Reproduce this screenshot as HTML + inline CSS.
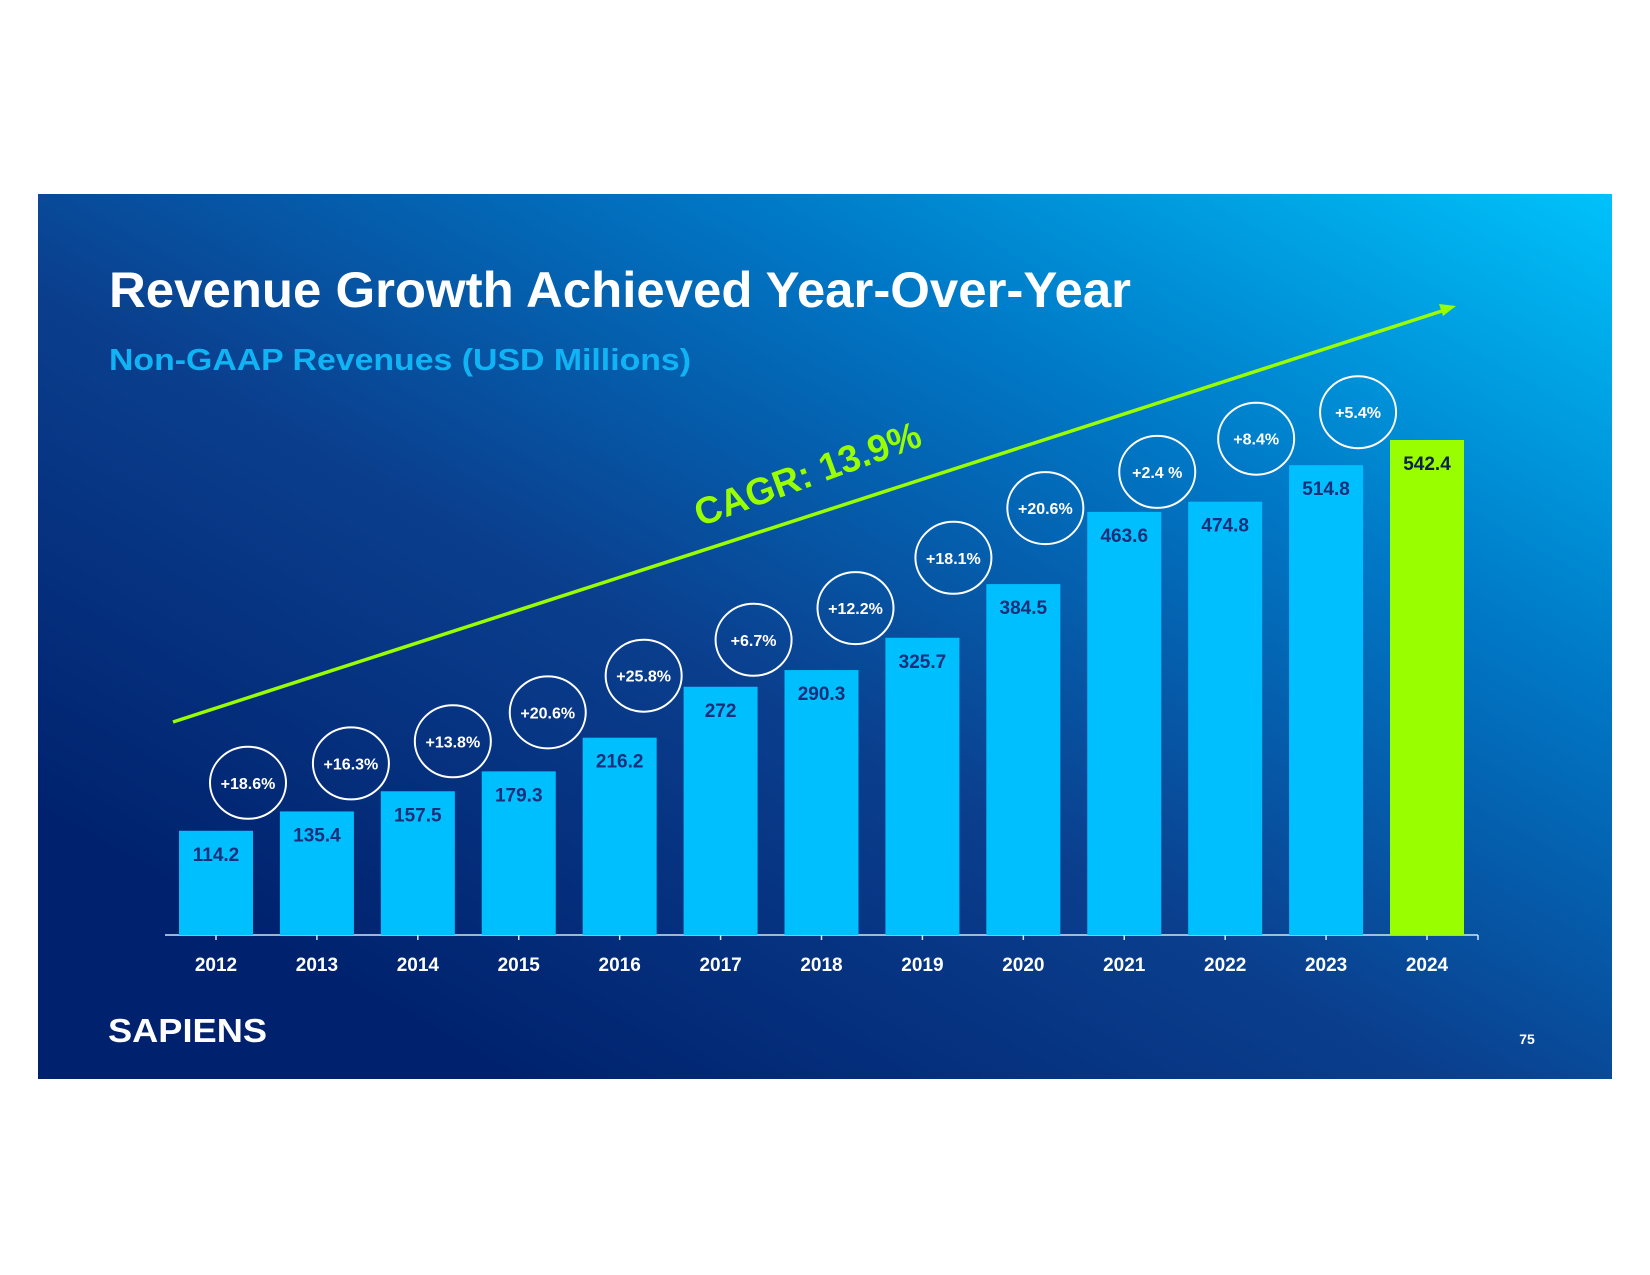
<!DOCTYPE html>
<html><head><meta charset="utf-8"><style>
html,body{margin:0;padding:0;background:#fff;width:1650px;height:1275px;overflow:hidden}
svg{display:block}
text{font-family:"Liberation Sans",sans-serif;font-weight:bold}
</style></head><body>
<svg id="chart" width="1650" height="1275" viewBox="0 0 1650 1275">
<defs>
<linearGradient id="bg" x1="0" y1="1" x2="1" y2="0">
<stop offset="0.15" stop-color="#00226e"/>
<stop offset="0.45" stop-color="#0a3f8e"/>
<stop offset="0.72" stop-color="#0078c6"/>
<stop offset="1" stop-color="#00c2fa"/>
</linearGradient>
</defs>
<rect x="38" y="194" width="1574" height="885" fill="url(#bg)"/>
<text x="109" y="307" font-size="50" fill="#fff" textLength="1022" lengthAdjust="spacingAndGlyphs">Revenue Growth Achieved Year-Over-Year</text>
<text x="109" y="370" font-size="31" fill="#10b4f4" textLength="582" lengthAdjust="spacingAndGlyphs">Non-GAAP Revenues (USD Millions)</text>
<line x1="173" y1="722" x2="1445" y2="310" stroke="#99ff00" stroke-width="3.5"/>
<polygon points="1456,306 1439,304 1443,316" fill="#99ff00"/>
<text x="0" y="0" font-size="38" fill="#99ff00" text-anchor="middle" textLength="238" lengthAdjust="spacingAndGlyphs" transform="translate(812,486) rotate(-20)">CAGR: 13.9%</text>
<g id="plot"></g>
<text x="108" y="1042" font-size="33" fill="#fff" textLength="159" lengthAdjust="spacingAndGlyphs">SAPIENS</text>
<text x="1527" y="1044" font-size="14" fill="#fff" text-anchor="middle">75</text>
</svg>
<script>
const years = ["2012","2013","2014","2015","2016","2017","2018","2019","2020","2021","2022","2023","2024"];
const revenues = [114.2,135.4,157.5,179.3,216.2,272,290.3,325.7,384.5,463.6,474.8,514.8,542.4];
const valueLabels = ["114.2","135.4","157.5","179.3","216.2","272","290.3","325.7","384.5","463.6","474.8","514.8","542.4"];
const growthLabels = ["+18.6%","+16.3%","+13.8%","+20.6%","+25.8%","+6.7%","+12.2%","+18.1%","+20.6%","+2.4 %","+8.4%","+5.4%"];

const NS="http://www.w3.org/2000/svg";
const g=document.getElementById('plot');
const baseY=935, pxPerUnit=(935-440)/542.4;
const x0=216, step=(1427-216)/12, barW=74;
// annotation layout offsets (pixels, styling only)
const circleDx=[32,34,35,29,24,33,34,31,22,33,31,32];
const circleLift=[48,48,50,59,62,47,62,80,76,40,63,53];
function xScale(i){return x0+i*step;}
function yScale(v){return baseY-v*pxPerUnit;}
function mk(tag,attrs){const e=document.createElementNS(NS,tag);for(const k in attrs)e.setAttribute(k,attrs[k]);g.appendChild(e);return e;}

const axis=mk('line',{x1:165,y1:baseY,x2:1478,y2:baseY,stroke:'#cfe6f5','stroke-width':1.5});


for(let i=0;i<=years.length;i++){
  const tx=(i<years.length)?xScale(i):1478;
  const t=mk('line',{x1:tx,y1:baseY,x2:tx,y2:baseY+5,stroke:'#cfe6f5','stroke-width':1.5});
  
  
}
years.forEach((yr,i)=>{
  const cx=xScale(i), top=yScale(revenues[i]);
  const last=i===years.length-1;
  const r=mk('rect',{x:cx-barW/2,y:top,width:barW,height:baseY-top,fill:last?'#99ff00':'#00bfff'});
  
  
  const vl=mk('text',{x:cx,y:top+30,'font-size':19,fill:last?'#0d2244':'#1a2f7a','text-anchor':'middle'});
  vl.textContent=valueLabels[i];
  
  
  const xl=mk('text',{x:cx,y:971,'font-size':19,fill:'#fff','text-anchor':'middle'});
  xl.textContent=yr;
  
  
  if(i<growthLabels.length){
    const ccx=cx+circleDx[i], ccy=top-circleLift[i];
    const c=mk('ellipse',{cx:ccx,cy:ccy,rx:38,ry:36,fill:'none',stroke:'#fff','stroke-width':2});
    
    
    const gl=mk('text',{x:ccx,y:ccy+6,'font-size':16,fill:'#fff','text-anchor':'middle'});
    gl.textContent=growthLabels[i];
    
    
  }
});
</script>
</body></html>
